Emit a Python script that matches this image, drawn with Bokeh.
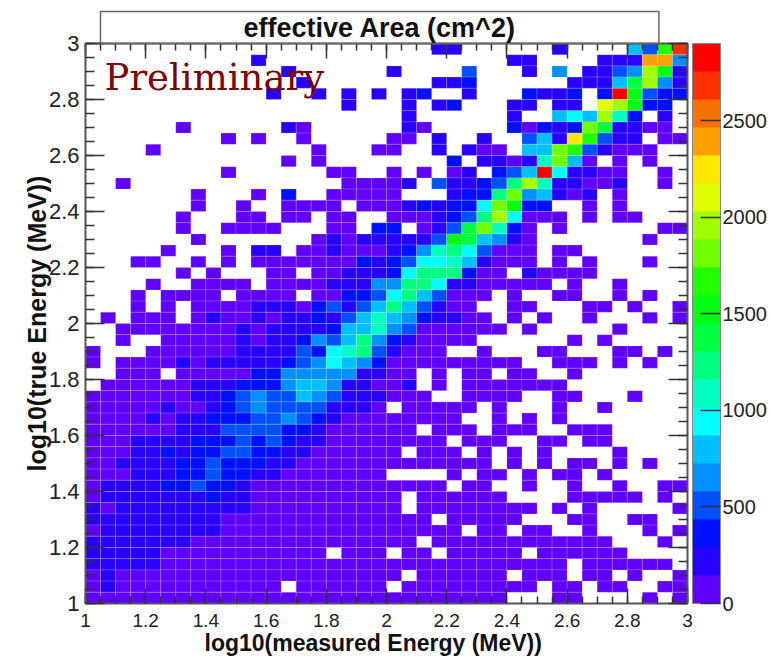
from bokeh.plotting import figure
from bokeh.models import (ColumnDataSource, LinearColorMapper, ColorBar, FixedTicker, LinearAxis,
                          NumeralTickFormatter, Label, Title, Range1d, CustomLabelingPolicy)
from bokeh.embed import file_html
from bokeh.resources import INLINE

title_text = "effective Area (cm^2)"
x_title = "log10(measured Energy (MeV))"
y_title = "log10(true Energy (MeV))"
stamp = "Preliminary"
x_ticks = [1, 1.2, 1.4, 1.6, 1.8, 2, 2.2, 2.4, 2.6, 2.8, 3]
y_ticks = [1, 1.2, 1.4, 1.6, 1.8, 2, 2.2, 2.4, 2.6, 2.8, 3]
z_ticks = [0, 500, 1000, 1500, 2000, 2500]
z_max = 2900
band_colors = ["#6000ff", "#2800ff", "#0010ff", "#0050ff", "#0090ff", "#00c0ff", "#00ffff",
               "#00ffc0", "#00ff80", "#00ff40", "#00ff10", "#20ff00", "#70ff00", "#a0ff00",
               "#e0ff00", "#ffe800", "#ffa000", "#ff7000", "#ff3000", "#ff0000"]

# Colour band read for each cell: top row first, '.' = empty bin, 0-9 then a-j = band 0..19
rows_top_down = [
    ".......................11......1....53bi",
    "...........1................11....111gg4",
    ".............1......1....3...1.4.1134da1",
    "..............1........112......11159d41",
    "............1..1.1.1.12..1...2112.2ja322",
    ".................1...1.12...11.11.eda22.",
    ".....................1......1..565d72.1.",
    "......0......10......10.....20212c91100.",
    ".........0.0..0.....00.1..1..351fb311.00",
    "....0..........0...00..1.100.55cb31000..",
    ".............0.0........2.11017c50.0.0..",
    ".........0......00..0.0.01.235j61100..0.",
    "..0..............00001.311238d711001..0.",
    ".......0...0.2..00000...1228c45101.0....",
    ".......0..0..0000.000121226ca22..0.0....",
    "......0...00.00.00..0001238d6000.0.00...",
    "......0..0000...00.22.0139c720.0......00",
    ".......0.......010111113a95410.......0..",
    ".....0...0.11.0010001247863000.00.......",
    "...00..0.0.0000000212366751000.0.0...0..",
    "......0.0...00.0011126888200.10000......",
    "....0..0000.0000111448861100000.0..0....",
    "...0.0000.0000.002236853000.0..00..0.0..",
    "...0.0.0000111023135853100..00...00.0..0",
    ".0.000.01001011213575421100.0.0..0...0.0",
    "..00000000101111255743000000.0.....0....",
    "..0..000001011243584210000......0.0.....",
    "0...00000011113267831000..0...00...00.0.",
    "0.000010111112346542000000000..000.0.0..",
    "..000.0000022444441100.0.00.00..0.......",
    ".000000111222455411001.0.0000000........",
    "00000001123433543111000..0000..00...0...",
    "00000100123433331110.00000.0...0..0.....",
    "0000101122233432100000000..0.0.0........",
    "0000001113333221000000.000.000..000.....",
    "000111122232321100000000.000..00.00.....",
    "000112122332211000000.000.0.0.0....0....",
    "001111223222110000000000000.0.0.00.0.0..",
    "00011122322110000000....0.00.0.00.0.....",
    "011112232210000000000000.00..0..0..0..00",
    "011111112110000000000.000000....00000.0.",
    "101111111110000000000.00000000.0.0.....0",
    "11111111100000000000000.00000...00..00..",
    "0111111110000000000000000.00.00..0...0.0",
    "1111111000000000000000.000000000000...0.",
    "1111100000000000.000.00.00000.000000....",
    "11111000000000000000000000000000.000000.",
    "010000000000000000000.000000.000.00.0..0",
    "0100000000000.000000.000000000.00.00..00",
    "0000000000000000000000000000...00....0.0",
]
assert all(len(r) == 40 for r in rows_top_down), [len(r) for r in rows_top_down]

n_cols, n_rows = 40, 50
dx = (x_ticks[-1] - x_ticks[0]) / n_cols
dy = (y_ticks[-1] - y_ticks[0]) / n_rows
band_width = z_max / len(band_colors)
codes = "0123456789abcdefghij"

xs, ys, zs = [], [], []
for j, row in enumerate(rows_top_down):
    for i, ch in enumerate(row):
        if ch != ".":
            xs.append(x_ticks[0] + (i + 0.5) * dx)
            ys.append(y_ticks[-1] - (j + 0.5) * dy)
            zs.append((codes.index(ch) + 0.5) * band_width)

FONT = "Liberation Sans"
AX = "#555555"
mapper = LinearColorMapper(palette=band_colors, low=0, high=z_max)

p = figure(frame_width=602, frame_height=560, min_border_left=85, min_border_top=43,
           min_border_bottom=56, min_border_right=0, x_range=Range1d(1, 3), y_range=Range1d(1, 3),
           toolbar_location=None, output_backend="svg", x_axis_location=None, y_axis_location=None)
p.grid.visible = False
p.outline_line_color = None
p.background_fill_color = "white"

p.rect(x="x", y="y", width=dx, height=dy, source=ColumnDataSource(dict(x=xs, y=ys, z=zs)),
       fill_color={"field": "z", "transform": mapper}, line_color="#ffffff", line_alpha=0.18, line_width=1)

def make_axis(ticks, labelled, size, tick_len):
    a = LinearAxis(ticker=FixedTicker(ticks=ticks,
                                      minor_ticks=[1 + k * 0.05 for k in range(41)]),
                   formatter=NumeralTickFormatter(format="0.[0]"))
    a.axis_line_color = AX
    a.axis_line_width = 2
    a.major_tick_line_color = "#333333"
    a.minor_tick_line_color = "#333333"
    a.major_tick_line_width = 1.5
    a.minor_tick_line_width = 1.5
    a.major_tick_in = tick_len
    a.major_tick_out = 0
    a.minor_tick_in = tick_len // 2
    a.minor_tick_out = 0
    a.major_label_text_font = FONT
    a.major_label_text_color = "#222222"
    a.major_label_text_font_size = size
    if not labelled:
        a.major_label_standoff = 0
        a.axis_label_standoff = 0
        a.major_label_policy = CustomLabelingPolicy(code="for (const i of indices) { indices.unset(i) } return indices")
    return a

bottom = make_axis(x_ticks, True, "19px", 15)
bottom.major_label_standoff = 10
bottom.axis_label_standoff = 0
left = make_axis(y_ticks, True, "22px", 19)
left.major_label_standoff = 6
left.axis_label = y_title
left.axis_label_text_font = FONT
left.axis_label_text_font_style = "bold"
left.axis_label_text_font_size = "25px"
left.axis_label_text_color = "#111111"
left.axis_label_standoff = -5
p.add_layout(bottom, "below")
p.add_layout(left, "left")
p.add_layout(make_axis(x_ticks, False, "0px", 15), "above")
p.add_layout(make_axis(y_ticks, False, "0px", 19), "right")

cb = ColorBar(color_mapper=mapper, ticker=FixedTicker(ticks=z_ticks), formatter=NumeralTickFormatter(format="0"),
              width=28, height=560, padding=0, margin=5, location=(5, 0),
              major_tick_in=20, major_tick_out=0, major_tick_line_color="#333333", major_tick_line_width=1.5,
              bar_line_color="#888888", major_label_text_font=FONT, major_label_text_font_size="20px",
              major_label_text_color="#222222", label_standoff=2, minor_tick_line_color=None,
              background_fill_color=None, border_line_color=None)
p.add_layout(cb, "right")

p.add_layout(Title(text=title_text, text_font=FONT, text_font_style="bold", text_font_size="27px",
                   text_color="#111111", align="left", offset=15, standoff=0, padding=(143, 1),
                   border_line_color="#666666", border_line_width=1.5), "above")
p.add_layout(Title(text=x_title, text_font=FONT, text_font_style="bold", text_font_size="23px",
                   text_color="#111111", align="left", offset=119, standoff=-3), "below")

def data_x(px):
    return 1 + (px - 85) / 301.0

def data_y(py):
    return 3 - (py - 43) / 280.0

p.add_layout(Label(x=data_x(104), y=data_y(77), text=stamp, text_font="DejaVu Serif",
                   text_font_size="37px", text_align="left", text_baseline="alphabetic", text_color="#800000"))

open("out.html", "w").write(file_html(p, INLINE))
